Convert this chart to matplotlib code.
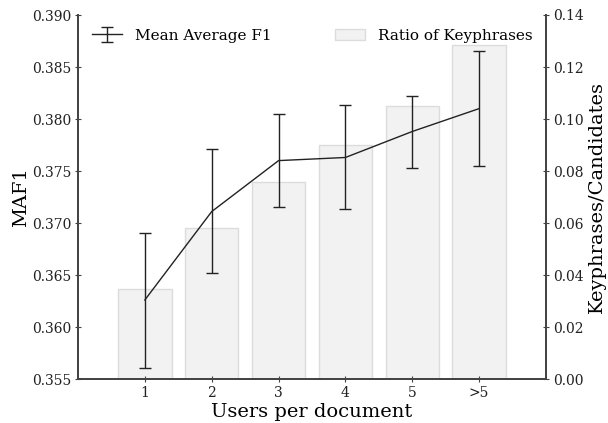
import matplotlib
matplotlib.use("Agg")
import matplotlib.pyplot as plt
import numpy as np

plt.rcParams['font.family'] = ['DejaVu Serif']

categories = ["1", "2", "3", "4", "5", ">5"]
maf1 = [0.3626, 0.3711, 0.3760, 0.3763, 0.3788, 0.3810]
maf1_upper = [0.3690, 0.3771, 0.3805, 0.3813, 0.3822, 0.3865]
maf1_lower = [0.3561, 0.3652, 0.3715, 0.3713, 0.3753, 0.3755]
ratio = [0.0346, 0.0581, 0.0758, 0.0900, 0.1050, 0.1285]

x = np.arange(1, len(categories) + 1)
yerr = [np.array(maf1) - np.array(maf1_lower), np.array(maf1_upper) - np.array(maf1)]

fig = plt.figure(figsize=(6.08, 4.23), dpi=100)
ax = fig.add_axes([78/608, 1 - 379/423, 468/608, 364/423])
ax2 = ax.twinx()

ax2.bar(x, ratio, width=0.8, color='#f2f2f2', edgecolor='#dcdcdc', linewidth=1.0,
        label='Ratio of Keyphrases')
ax.errorbar(x, maf1, yerr=yerr, color='#222222', linewidth=1.0, elinewidth=1.0,
            capsize=4.5, capthick=1.0, label='Mean Average F1')

ax.set_zorder(ax2.get_zorder() + 1)
ax.patch.set_visible(False)

ax.set_xlim(0, 7)
ax.set_ylim(0.355, 0.390)
ax2.set_ylim(0.0, 0.14)
ax.set_yticks(np.arange(0.355, 0.3901, 0.005))
ax.set_yticklabels([f"{v:.3f}" for v in np.arange(0.355, 0.3901, 0.005)])
ax2.set_yticks(np.arange(0, 0.1401, 0.02))
ax2.set_yticklabels([f"{v:.2f}" for v in np.arange(0, 0.1401, 0.02)])
ax.set_xticks(x)
ax.set_xticklabels(categories)

for a in (ax, ax2):
    a.spines['top'].set_visible(False)
    for s in a.spines.values():
        s.set_color('#444444')
        s.set_linewidth(1.3)
    a.tick_params(direction='inout', labelsize=10, length=4, color='#444444',
                  labelcolor='#222222', pad=3)
ax.tick_params(axis='y', which='both', right=False)
ax.tick_params(axis='x', top=False)
ax2.tick_params(axis='x', top=False)

ax.set_xlabel("Users per document", fontsize=14, labelpad=2)
ax.set_ylabel("MAF1", fontsize=14, labelpad=1)
ax2.set_ylabel("Keyphrases/Candidates", fontsize=14, labelpad=3)

ax.legend(loc='upper left', frameon=False, fontsize=11)
ax2.legend(loc='upper right', frameon=False, fontsize=11)

fig.savefig("out.png", dpi=100)
